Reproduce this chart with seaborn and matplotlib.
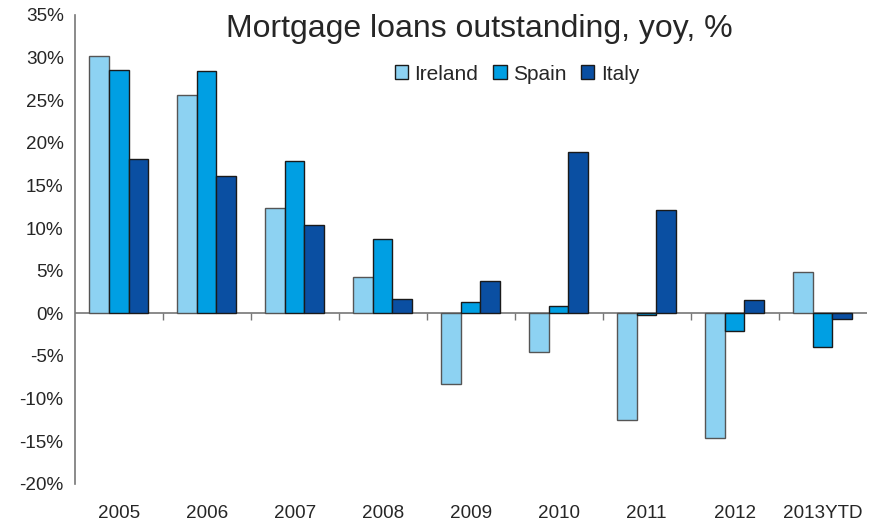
import matplotlib
matplotlib.use("Agg")
import matplotlib.pyplot as plt
import numpy as np
import pandas as pd
import seaborn as sns

# --- Data (yoy % change) -----------------------------------------------------
years   = ['2005', '2006', '2007', '2008', '2009', '2010', '2011', '2012', '2013YTD']
ireland = [30.2, 25.6, 12.3, 4.2, -8.3, -4.5, -12.5, -14.6, 4.8]
spain   = [28.6, 28.4, 17.9, 8.7, 1.3, 0.9, -0.15, -2.1, -4.0]
italy   = [18.1, 16.1, 10.3, 1.7, 3.8, 18.9, 12.1, 1.5, -0.7]
countries = ['Ireland', 'Spain', 'Italy']
y_ticks = list(range(-20, 40, 5))

COLORS = {'Ireland': '#8DD2F2', 'Spain': '#009FE3', 'Italy': '#0A4FA2'}

df = pd.DataFrame({
    'year': years * 3,
    'value': ireland + spain + italy,
    'country': np.repeat(countries, len(years)),
})

sns.set_style("white")
plt.rcParams['font.family'] = ['Liberation Sans', 'DejaVu Sans']

fig = plt.figure(figsize=(8.74, 5.22), dpi=100)
ax = fig.add_axes([0.0855, 0.0734, 0.9061, 0.8979])

sns.barplot(data=df, x='year', y='value', hue='country', hue_order=countries,
            order=years, palette=COLORS, width=0.667, gap=0,
            edgecolor='#1a1a1a', linewidth=1, saturation=1, ax=ax)

# light bars have a softer edge in the original
for patch in ax.containers[0]:
    patch.set_edgecolor('#555555')

ax.set_ylim(-20, 35)
ax.set_xlim(-0.5, len(years) - 0.5)
ax.set_yticks(y_ticks)
ax.set_yticklabels([f'{t}%' for t in y_ticks], fontsize=13.6)
ax.set_xlabel('')
ax.set_ylabel('')
ax.tick_params(axis='x', length=0, pad=15, labelsize=13.6)
ax.tick_params(axis='y', length=5, width=1, color='#777777', direction='out', pad=3)

for side in ('top', 'right', 'bottom'):
    ax.spines[side].set_visible(False)
ax.spines['left'].set_color('#777777')
ax.spines['left'].set_linewidth(1.2)

# zero line with category separators pointing down
ax.axhline(0, color='#777777', linewidth=1.2, zorder=0)
zero_frac = 20 / 55
sec = ax.secondary_xaxis(zero_frac)
sec.set_xticks(np.arange(0.5, len(years) - 0.5, 1.0))
sec.set_xticklabels([])
sec.tick_params(length=5, width=1, color='#777777', direction='out')
sec.spines['bottom'].set_visible(False)

fig.text(0.548, 0.945, 'Mortgage loans outstanding, yoy, %', fontsize=23,
         ha='center', va='center')

handles, labels = ax.get_legend_handles_labels()
ax.legend(handles, labels, loc='center', bbox_to_anchor=(0.5915, 0.858),
          bbox_transform=fig.transFigure, ncol=3, frameon=False, fontsize=15,
          handlelength=0.65, handleheight=0.65, handletextpad=0.3,
          columnspacing=0.7)

fig.savefig('out.png', dpi=100)
